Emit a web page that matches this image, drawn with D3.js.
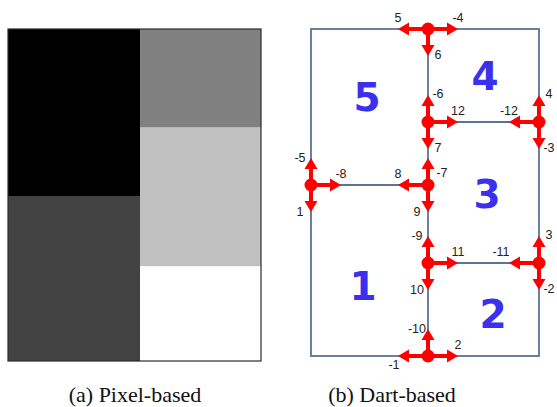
<!DOCTYPE html>
<html><head><meta charset="utf-8">
<script src="https://cdn.jsdelivr.net/npm/d3@7"></script>
<style>html,body{margin:0;padding:0;background:#fff;}svg{display:block;}</style>
</head><body>
<script>
// ---- data ----
// (a) pixel-based: regions of the label image, in image units (width 1, height 1)
const pixelCells = [
  {x0: 0,     x1: 0.522, y0: 0,     y1: 0.503, gray: 0},
  {x0: 0,     x1: 0.522, y0: 0.503, y1: 1,     gray: 66},
  {x0: 0.522, x1: 1,     y0: 0,     y1: 0.297, gray: 128},
  {x0: 0.522, x1: 1,     y0: 0.297, y1: 0.715, gray: 192},
  {x0: 0.522, x1: 1,     y0: 0.715, y1: 1,     gray: 255}
];
// (b) dart-based map: vertices in map units
const nodeNames = ["top", "n12", "e12", "w8", "n8", "n11", "e11", "bot"];
const nodeX = [117, 117, 228, 0, 117, 117, 228, 117];
const nodeY = [0, 93, 93, 156, 156, 234, 234, 327];
// boundary frame corners
const frameX = [0, 228];
const frameY = [0, 327];
// interior edges (node index pairs)
const edges = [[0, 7], [1, 2], [3, 4], [5, 6]];
// darts: node, direction, label, label side
const darts = [
  {node: 0, dir: "w", label: "5",   side: "n"},
  {node: 0, dir: "e", label: "-4",  side: "n"},
  {node: 0, dir: "s", label: "6",   side: "e"},
  {node: 1, dir: "n", label: "-6",  side: "e"},
  {node: 1, dir: "e", label: "12",  side: "n"},
  {node: 1, dir: "s", label: "7",   side: "e"},
  {node: 2, dir: "w", label: "-12", side: "n"},
  {node: 2, dir: "n", label: "4",   side: "e"},
  {node: 2, dir: "s", label: "-3",  side: "e"},
  {node: 3, dir: "n", label: "-5",  side: "w"},
  {node: 3, dir: "e", label: "-8",  side: "n"},
  {node: 3, dir: "s", label: "1",   side: "w"},
  {node: 4, dir: "w", label: "8",   side: "n"},
  {node: 4, dir: "n", label: "-7",  side: "se"},
  {node: 4, dir: "s", label: "9",   side: "w"},
  {node: 5, dir: "n", label: "-9",  side: "w"},
  {node: 5, dir: "e", label: "11",  side: "n"},
  {node: 5, dir: "s", label: "10",  side: "w"},
  {node: 6, dir: "w", label: "-11", side: "nw"},
  {node: 6, dir: "n", label: "3",   side: "e"},
  {node: 6, dir: "s", label: "-2",  side: "e"},
  {node: 7, dir: "w", label: "-1",  side: "s"},
  {node: 7, dir: "e", label: "2",   side: "n"},
  {node: 7, dir: "n", label: "-10", side: "w"}
];
// faces: label and centre, in map units
const faceLabels = ["5", "4", "3", "1", "2"];
const faceX = [56, 174, 176, 52, 182];
const faceY = [68, 47, 165, 257, 285];
// captions
const captions = ["(a) Pixel-based", "(b) Dart-based"];

// ---- drawing ----
const W = 557, H = 407;
const svg = d3.select("body").append("svg").attr("width", W).attr("height", H);

// (a) pixel panel
const px = d3.scaleLinear().domain([0, 1]).range([8, 261]);
const py = d3.scaleLinear().domain([0, 1]).range([29, 361]);
const ga = svg.append("g");
ga.selectAll("rect.cell").data(pixelCells).join("rect")
  .attr("class", "cell")
  .attr("x", d => px(d.x0)).attr("y", d => py(d.y0))
  .attr("width", d => px(d.x1) - px(d.x0)).attr("height", d => py(d.y1) - py(d.y0))
  .attr("fill", d => d3.rgb(d.gray, d.gray, d.gray));
ga.append("rect").attr("x", px(0)).attr("y", py(0))
  .attr("width", px(1) - px(0)).attr("height", py(1) - py(0))
  .attr("fill", "none").attr("stroke", "#2a2a2a").attr("stroke-width", 1.2);

// (b) dart panel
const mx = d3.scaleLinear().domain([0, 228]).range([311, 539]);
const my = d3.scaleLinear().domain([0, 327]).range([29, 356]);
const gb = svg.append("g");
const edgeColor = "#5b7394";
gb.append("rect").attr("x", mx(frameX[0])).attr("y", my(frameY[0]))
  .attr("width", mx(frameX[1]) - mx(frameX[0])).attr("height", my(frameY[1]) - my(frameY[0]))
  .attr("fill", "none").attr("stroke", edgeColor).attr("stroke-width", 1.8);
gb.selectAll("line.edge").data(edges).join("line").attr("class", "edge")
  .attr("x1", d => mx(nodeX[d[0]])).attr("y1", d => my(nodeY[d[0]]))
  .attr("x2", d => mx(nodeX[d[1]])).attr("y2", d => my(nodeY[d[1]]))
  .attr("stroke", edgeColor).attr("stroke-width", 1.8);

// face labels
gb.selectAll("text.face").data(faceLabels).join("text").attr("class", "face")
  .attr("x", (d, i) => mx(faceX[i])).attr("y", (d, i) => my(faceY[i]))
  .attr("text-anchor", "middle").attr("dominant-baseline", "central")
  .style("font-family", "'DejaVu Sans', sans-serif").style("font-weight", "bold")
  .style("font-size", "39px").attr("fill", "#3a30ee")
  .text(d => d);

const dirVec = {n: [0, -1], s: [0, 1], e: [1, 0], w: [-1, 0]};
const red = "#ff0000";
const LH = 30, LV = 27, headL = 11, headW = 6.5;
function tipOf(d) {
  const v = dirVec[d.dir];
  const L = v[0] !== 0 ? LH : LV;
  const x0 = mx(nodeX[d.node]), y0 = my(nodeY[d.node]);
  return {x0, y0, tx: x0 + v[0] * L, ty: y0 + v[1] * L, v};
}
const gd = gb.append("g");
darts.forEach(d => {
  const t = tipOf(d);
  const bx = t.tx - t.v[0] * headL, by = t.ty - t.v[1] * headL;
  gd.append("line").attr("x1", t.x0).attr("y1", t.y0).attr("x2", bx).attr("y2", by)
    .attr("stroke", red).attr("stroke-width", 4);
  const px_ = -t.v[1], py_ = t.v[0];
  gd.append("path")
    .attr("d", `M${t.tx},${t.ty}L${bx + px_ * headW},${by + py_ * headW}L${bx - px_ * headW},${by - py_ * headW}Z`)
    .attr("fill", red);
});
gd.selectAll("circle").data(nodeNames).join("circle")
  .attr("cx", (d, i) => mx(nodeX[i])).attr("cy", (d, i) => my(nodeY[i]))
  .attr("r", 6.5).attr("fill", red);

const sideOff = {n: [0, -11], s: [-4, 9], e: [10, -1], w: [-11, 0], se: [14, 15], nw: [-8, -11]};
gb.selectAll("text.dart").data(darts).join("text").attr("class", "dart")
  .attr("x", d => tipOf(d).tx + sideOff[d.side][0])
  .attr("y", d => tipOf(d).ty + sideOff[d.side][1])
  .attr("text-anchor", "middle").attr("dominant-baseline", "central")
  .style("font-family", "'Liberation Sans', sans-serif").style("font-size", "12.5px")
  .attr("fill", "#222")
  .text(d => d.label);

// captions
const capX = [135, 392];
svg.selectAll("text.cap").data(captions).join("text").attr("class", "cap")
  .attr("x", (d, i) => capX[i]).attr("y", 402)
  .attr("text-anchor", "middle")
  .style("font-family", "'Liberation Serif', serif").style("font-size", "22px")
  .attr("fill", "#111")
  .text(d => d);
</script>
</body></html>
